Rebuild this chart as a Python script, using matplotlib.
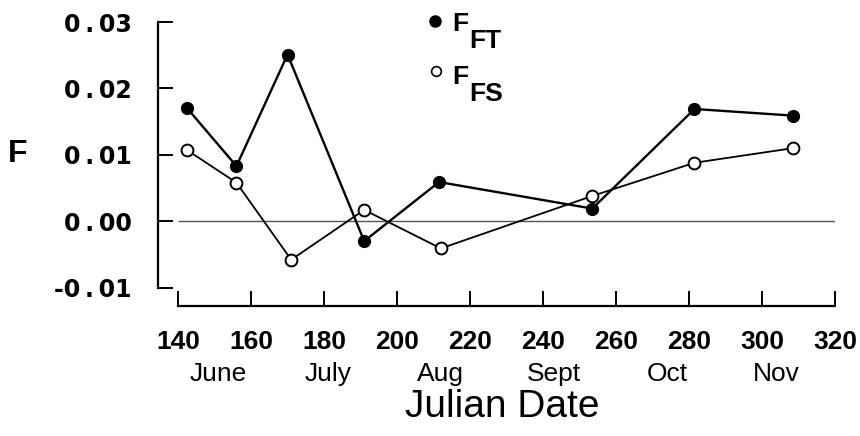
import matplotlib
matplotlib.use("Agg")
import matplotlib.pyplot as plt

# Data
days_ft = [142.5, 156, 170, 191, 211.5, 253.5, 281.5, 308.5]
f_ft = [0.0170, 0.0083, 0.0251, -0.0030, 0.0059, 0.0019, 0.0169, 0.0159]
days_fs = [142.5, 156, 171, 191, 212, 253.5, 281.5, 308.5]
f_fs = [0.0107, 0.0058, -0.0058, 0.0017, -0.0041, 0.0038, 0.0088, 0.0110]
xticks = [140, 160, 180, 200, 220, 240, 260, 280, 300, 320]
yticks = [-0.01, 0.00, 0.01, 0.02, 0.03]
ytick_labels = ["-0.01", "0.00", "0.01", "0.02", "0.03"]
months = ["June", "July", "Aug", "Sept", "Oct", "Nov"]
month_pos = [151, 181, 212, 243, 274, 304]

FAM = ['Liberation Sans', 'DejaVu Sans']
WIDE = ['DejaVu Sans']
plt.rcParams['font.family'] = FAM

fig = plt.figure(figsize=(8.6, 4.36), dpi=100)
W, H = 860, 436
ax = fig.add_axes([158 / W, 1 - 306 / H, (835 - 158) / W, (306 - 22) / H])

ax.hlines(0, xticks[0], xticks[-1], color='#555555', lw=1.0, zorder=1)
ax.plot(days_ft, f_ft, color='black', lw=1.7, marker='o', ms=8.5,
        mfc='black', mec='black', zorder=3)
ax.plot(days_fs, f_fs, color='black', lw=1.3, marker='o', ms=8.5,
        mfc='white', mec='black', mew=1.4, zorder=3)

ax.set_xlim(134.5, 320)
ax.set_ylim(-0.01277, 0.03)
for s in ['top', 'right']:
    ax.spines[s].set_visible(False)
ax.spines['left'].set_bounds(-0.01, 0.03)
ax.spines['bottom'].set_bounds(140, 320)
ax.spines['left'].set_linewidth(1.6)
ax.spines['bottom'].set_linewidth(1.6)

ax.set_xticks(xticks)
ax.set_xticklabels([str(t) for t in xticks], fontsize=19, fontweight='bold',
                   family=FAM)
ax.set_yticks(yticks)
thin = "\u2009"
ax.set_yticklabels([t.replace(".", thin + "." + thin) for t in ytick_labels],
                   fontsize=17, fontweight='bold', family=WIDE)
ax.tick_params(axis='x', direction='in', length=11, width=1.4, pad=17)
ax.tick_params(axis='y', direction='in', length=11, width=1.4, pad=19)

# month labels
for m, p in zip(months, month_pos):
    ax.text(p, -0.0240, m, ha='center', va='baseline', fontsize=19,
            clip_on=False, transform=ax.transData, family=FAM)

fig.text(502 / W, 1 - 417 / H, "Julian Date", ha='center', va='baseline',
         fontsize=28)
fig.text(18 / W, 1 - 154 / H, "F", ha='center', va='center', fontsize=23,
         fontweight='bold')

# legend
fig.lines.append(plt.Line2D([435 / W], [1 - 21 / H], transform=fig.transFigure,
                            marker='o', ms=8, mfc='black', mec='black'))
fig.lines.append(plt.Line2D([436 / W], [1 - 71 / H], transform=fig.transFigure,
                            marker='o', ms=7, mfc='white', mec='black', mew=1.2))
for txt, x, y in [("F", 452, 31), ("FT", 469, 48), ("F", 452, 84), ("FS", 469, 101)]:
    fig.text(x / W, 1 - y / H, txt, ha='left', va='baseline', fontsize=19,
             fontweight='bold')

fig.savefig("out.png", dpi=100)
